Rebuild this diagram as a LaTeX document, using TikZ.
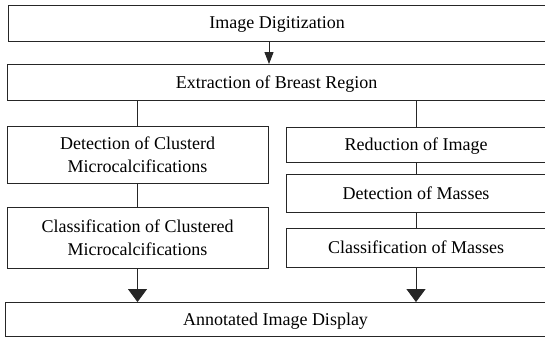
\documentclass[tikz,border=0pt]{standalone}
\usepackage{fontspec}
\setmainfont{Liberation Serif}
\usetikzlibrary{arrows.meta}
\begin{document}
\begin{tikzpicture}[x=1pt,y=-1pt,
  box/.style={draw=black!85, line width=0.9pt, rectangle, inner sep=0pt, align=center,
    text depth=0pt, font=\fontsize{18}{22.5}\selectfont},
  link/.style={draw=black!85, line width=0.9pt},
  bigarrow/.style={link, -{Triangle[width=19pt,length=13pt]}, shorten >=-0.5pt},
  smallarrow/.style={link, -{Triangle[width=9pt,length=12pt]}, shorten >=-0.5pt}]
\useasboundingbox (0,0) rectangle (545,340);
\clip (0,0) rectangle (545,340);
\node[box, minimum width=538pt, minimum height=36pt] (n1) at (277,23) {Image Digitization};
\node[box, minimum width=539pt, minimum height=36pt] (n2) at (276.5,82) {Extraction of Breast Region};
\node[box, minimum width=261pt, minimum height=57pt] (l1) at (137.5,154.5) {Detection of Clusterd\\Microcalcifications};
\node[box, minimum width=261pt, minimum height=61pt] (l2) at (137.5,237.5) {Classification of Clustered\\Microcalcifications};
\node[box, minimum width=260pt, minimum height=35pt] (r1) at (416,144.5) {Reduction of Image};
\node[box, minimum width=260pt, minimum height=38pt] (r2) at (416,193) {Detection of Masses};
\node[box, minimum width=260pt, minimum height=39pt] (r3) at (416,247.5) {Classification of Masses};
\node[box, minimum width=541pt, minimum height=34pt] (n3) at (275.5,319) {Annotated Image Display};
\coordinate (c1) at (269,0);
\draw[smallarrow] (n1.south -| c1) -- (n2.north -| c1);
\draw[link] (n2.south -| l1.north) -- (l1.north);
\draw[link] (n2.south -| r1.north) -- (r1.north);
\draw[link] (l1.south) -- (l2.north);
\draw[link] (r1.south) -- (r2.north);
\draw[link] (r2.south) -- (r3.north);
\draw[bigarrow] (l2.south) -- (n3.north -| l2.south);
\draw[bigarrow] (r3.south) -- (n3.north -| r3.south);
\end{tikzpicture}
\end{document}
